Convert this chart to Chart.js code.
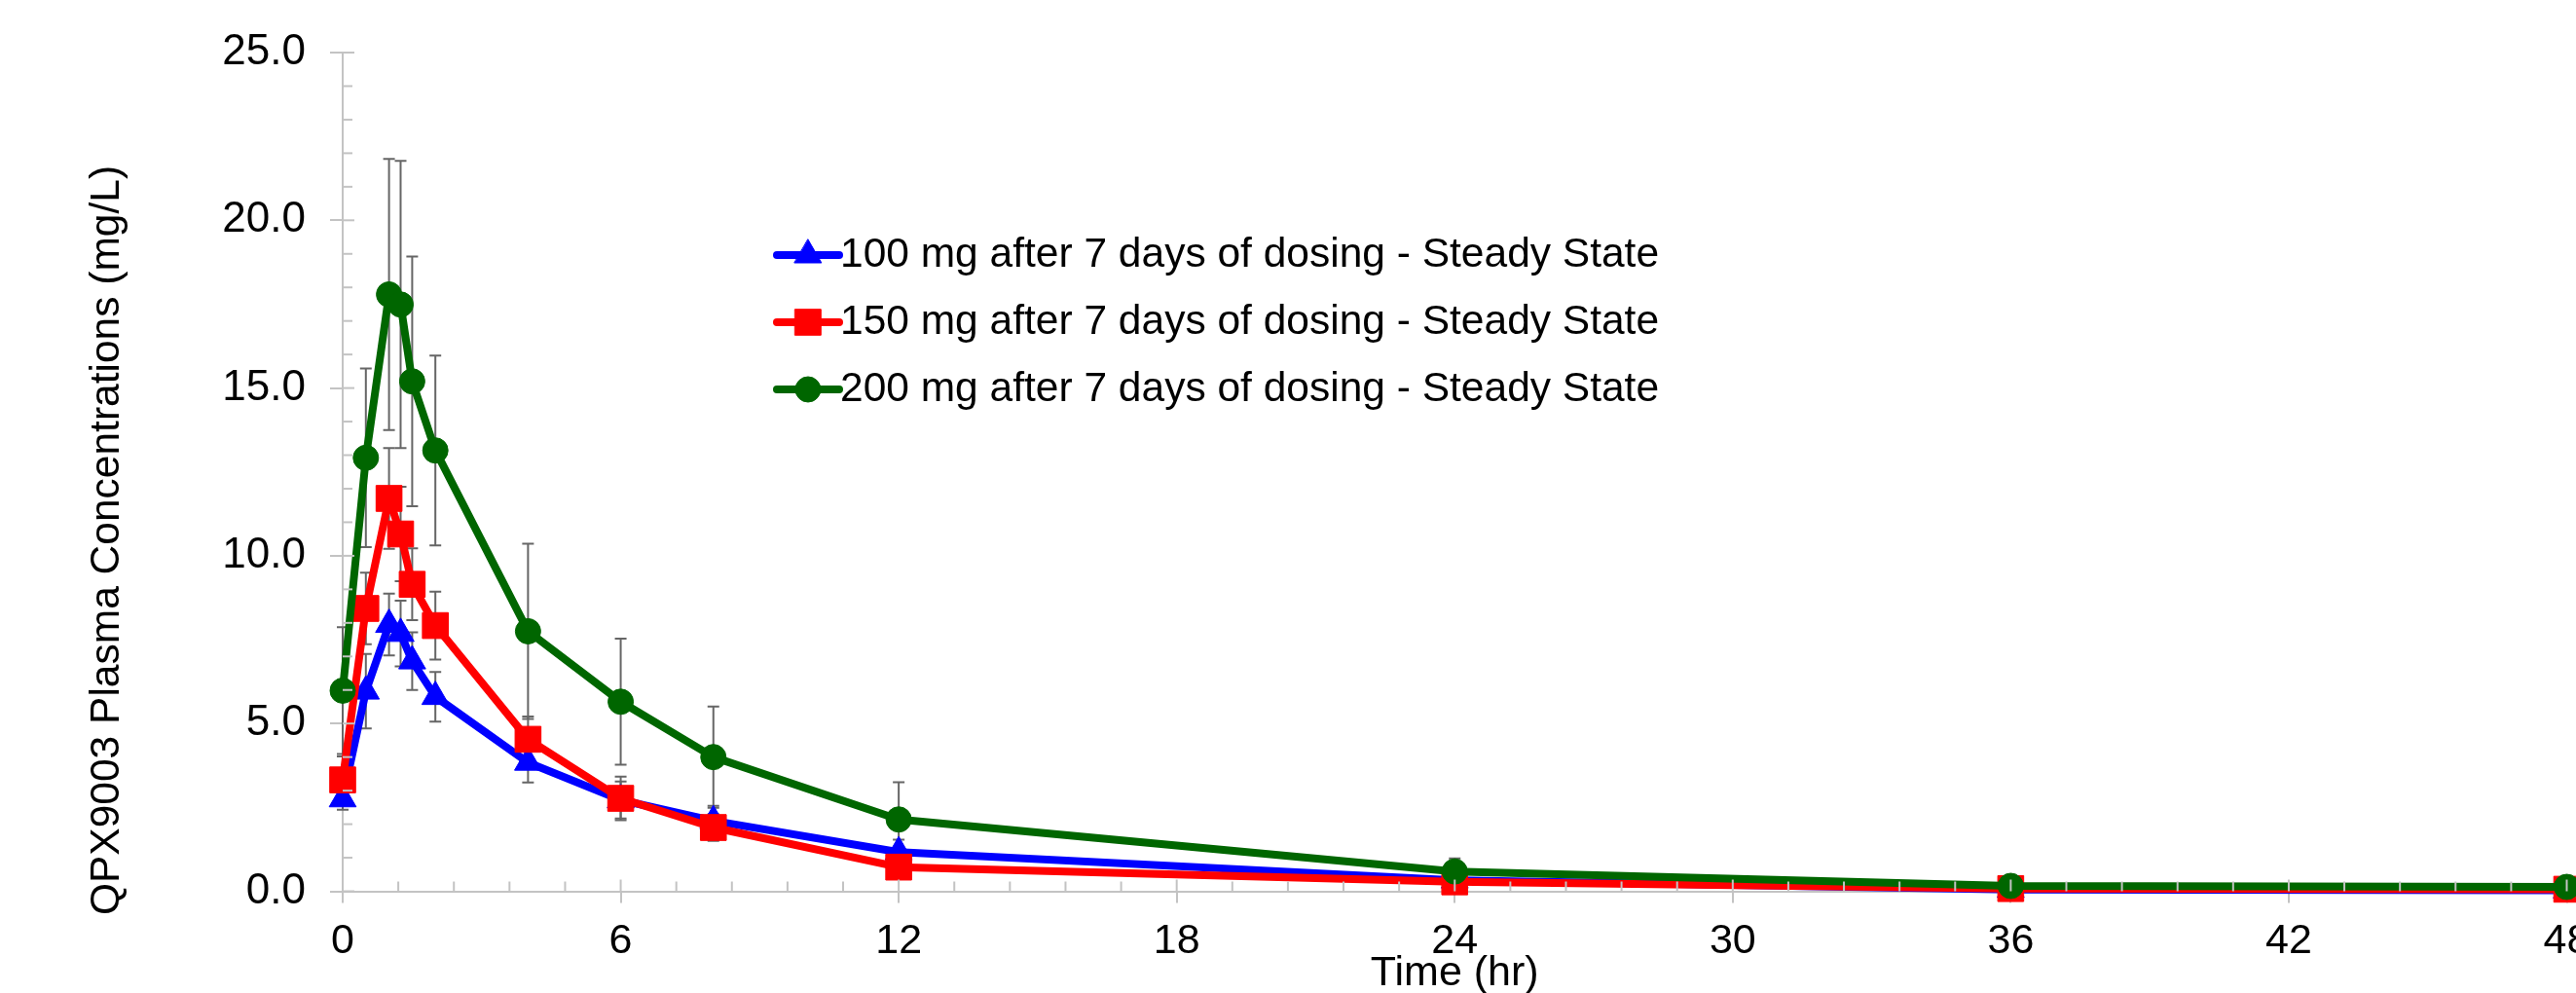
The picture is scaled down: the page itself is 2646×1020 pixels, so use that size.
<!DOCTYPE html>
<html>
<head>
<meta charset="utf-8">
<script src="https://cdn.jsdelivr.net/npm/chart.js@4.4.0/dist/chart.umd.min.js"></script>
<style>
html,body{margin:0;padding:0;overflow:hidden;background:#ffffff;width:2646px;height:1020px;}
#wrap{position:absolute;left:0;top:0;width:2700px;height:1040px;}
canvas{display:block;}
</style>
</head>
<body>
<div id="wrap"><canvas id="c" width="2700" height="1040"></canvas></div>
<script>
// ---- data ----
const times = [0, 0.5, 1, 1.25, 1.5, 2, 4, 6, 8, 12, 24, 36, 48];
const seriesNames = [
  "100 mg after 7 days of dosing - Steady State",
  "150 mg after 7 days of dosing - Steady State",
  "200 mg after 7 days of dosing - Steady State"
];
const mean100 = [2.75, 5.96, 7.95, 7.68, 6.86, 5.80, 3.84, 2.72, 2.10, 1.17, 0.33, 0.05, 0.03];
const sd100   = [0.32, 1.11, 0.92, 0.98, 0.86, 0.74, 0.60, 0.55, 0.45, 0.37, 0.12, 0.03, 0.02];
const mean150 = [3.32, 8.43, 11.71, 10.65, 9.15, 7.92, 4.53, 2.77, 1.90, 0.72, 0.28, 0.08, 0.06];
const sd150   = [0.70, 1.07, 1.50, 1.41, 1.07, 1.01, 0.68, 0.65, 0.40, 0.30, 0.12, 0.05, 0.04];
const mean200 = [5.98, 12.92, 17.79, 17.49, 15.20, 13.14, 7.75, 5.65, 4.00, 2.14, 0.59, 0.16, 0.13];
const sd200   = [1.89, 2.66, 4.04, 4.28, 3.72, 2.83, 2.61, 1.88, 1.51, 1.11, 0.39, 0.10, 0.08];
const yAxisTitle = "QPX9003 Plasma Concentrations (mg/L)";
const xAxisTitle = "Time (hr)";
const yMin = 0, yMax = 25, yStep = 5, yMinorStep = 1;
const xMin = 0, xMax = 48, xStep = 6, xMinorStep = 1.2;

const FONT = "'Liberation Sans', Arial, Helvetica, sans-serif";
Chart.defaults.font.family = FONT;
Chart.defaults.color = '#000000';

const AXIS_COLOR = '#c3c3c3';

function pts(means){ return times.map((t,i)=>({x:t, y:means[i]})); }

const datasets = [
  {label: seriesNames[0], data: pts(mean100), sd: sd100, borderColor:'#0000ff', backgroundColor:'#0000ff',
   pointStyle:'triangle', pointRadius:16, order:2},
  {label: seriesNames[1], data: pts(mean150), sd: sd150, borderColor:'#ff0000', backgroundColor:'#ff0000',
   pointStyle:'rect', pointRadius:18.8, order:1},
  {label: seriesNames[2], data: pts(mean200), sd: sd200, borderColor:'#006600', backgroundColor:'#006600',
   pointStyle:'circle', pointRadius:13, order:0}
].map(d => Object.assign({
  borderWidth:8, pointBorderWidth:1, pointBackgroundColor:d.backgroundColor, pointBorderColor:d.borderColor,
  borderJoinStyle:'round', borderCapStyle:'round', tension:0, clip:false, pointHoverRadius:d.pointRadius
}, d));

// error bars drawn beneath the series
const errorBars = {
  id:'errorBars',
  beforeDatasetsDraw(chart){
    const {ctx, scales:{x, y}} = chart;
    ctx.save();
    ctx.strokeStyle = '#666666';
    ctx.lineWidth = 2;
    chart.data.datasets.forEach(ds => {
      ds.data.forEach((p,i) => {
        const sd = ds.sd[i];
        const px = x.getPixelForValue(p.x);
        const yt = y.getPixelForValue(p.y + sd);
        const yb = y.getPixelForValue(Math.max(p.y - sd, 0));
        ctx.beginPath();
        ctx.moveTo(px, yt); ctx.lineTo(px, yb);
        ctx.moveTo(px-6, yt); ctx.lineTo(px+6, yt);
        ctx.moveTo(px-6, yb); ctx.lineTo(px+6, yb);
        ctx.stroke();
      });
    });
    ctx.restore();
  }
};

// minor ticks and inner parts of major ticks
const innerTicks = {
  id:'innerTicks',
  afterDraw(chart){
    const {ctx, scales:{x, y}, chartArea} = chart;
    ctx.save();
    ctx.strokeStyle = AXIS_COLOR;
    ctx.lineWidth = 2;
    const ax = chartArea.left, ay = chartArea.bottom;
    const nY = Math.round((yMax - yMin)/yMinorStep);
    for (let i=0;i<=nY;i++){
      const v = yMin + i*yMinorStep;
      const major = Math.abs(v/yStep - Math.round(v/yStep)) < 1e-6;
      const py = y.getPixelForValue(v);
      ctx.beginPath(); ctx.moveTo(ax, py); ctx.lineTo(ax + (major?12:10), py); ctx.stroke();
    }
    const nX = Math.round((xMax - xMin)/xMinorStep);
    for (let i=0;i<=nX;i++){
      const v = xMin + i*xMinorStep;
      const major = Math.abs(v/xStep - Math.round(v/xStep)) < 1e-6;
      const px = x.getPixelForValue(v);
      ctx.beginPath(); ctx.moveTo(px, ay); ctx.lineTo(px, ay - (major?12:10)); ctx.stroke();
    }
    ctx.restore();
  }
};

// custom legend (line + marker + text) inside the plot
const lineLegend = {
  id:'lineLegend',
  afterDatasetsDraw(chart){
    const ctx = chart.ctx;
    const rowsY = [262, 331, 400];
    const x0 = 798, x1 = 862;
    ctx.save();
    chart.data.datasets.forEach((ds,i) => {
      const yy = rowsY[i];
      ctx.strokeStyle = ds.borderColor;
      ctx.lineWidth = ds.borderWidth;
      ctx.lineCap = 'round';
      ctx.beginPath(); ctx.moveTo(x0, yy); ctx.lineTo(x1, yy); ctx.stroke();
      ctx.fillStyle = ds.backgroundColor;
      ctx.strokeStyle = ds.borderColor;
      ctx.lineWidth = 1;
      Chart.helpers.drawPoint(ctx, {pointStyle: ds.pointStyle, radius: ds.pointRadius, rotation:0, borderWidth:1}, (x0+x1)/2, yy);
      ctx.fillStyle = '#000000';
      ctx.font = "42.5px " + FONT;
      ctx.textAlign = 'left';
      ctx.textBaseline = 'middle';
      ctx.fillText(ds.label, x1 + 1, yy);
    });
    ctx.restore();
  }
};

// y axis title
const yTitle = {
  id:'yTitle',
  afterDraw(chart){
    const ctx = chart.ctx;
    ctx.save();
    ctx.translate(110, 555);
    ctx.rotate(-Math.PI/2);
    ctx.fillStyle = '#000000';
    ctx.font = "42.5px " + FONT;
    ctx.textAlign = 'center';
    ctx.textBaseline = 'middle';
    ctx.fillText(yAxisTitle, 0, 0);
    ctx.restore();
  }
};

new Chart(document.getElementById('c'), {
  type:'line',
  data:{datasets},
  options:{
    responsive:false,
    devicePixelRatio:1,
    animation:false,
    layout:{padding:{left:0, right:63.5, top:54, bottom:14}},
    plugins:{legend:{display:false}, tooltip:{enabled:false}, title:{display:false}},
    scales:{
      x:{
        type:'linear', min:xMin, max:xMax,
        ticks:{stepSize:xStep, font:{size:43}, color:'#000000', padding:14, maxRotation:0, autoSkip:false,
               callback:(v)=>String(v)},
        grid:{drawOnChartArea:false, drawTicks:true, tickLength:12, color:AXIS_COLOR, lineWidth:2},
        border:{display:true, color:AXIS_COLOR, width:2},
        title:{display:true, text:xAxisTitle, font:{size:43}, color:'#000000', padding:{top:0, bottom:0}},
        afterFit:(s)=>{ s.height = 110.5; }
      },
      y:{
        type:'linear', min:yMin, max:yMax,
        ticks:{stepSize:yStep, font:{size:44}, color:'#000000', padding:25,
               callback:(v)=>Number(v).toFixed(1)},
        grid:{drawOnChartArea:false, drawTicks:true, tickLength:13, color:AXIS_COLOR, lineWidth:2},
        border:{display:true, color:AXIS_COLOR, width:2},
        title:{display:false},
        afterFit:(s)=>{ s.width = 352; }
      }
    }
  },
  plugins:[errorBars, innerTicks, lineLegend, yTitle]
});
</script>
</body>
</html>
